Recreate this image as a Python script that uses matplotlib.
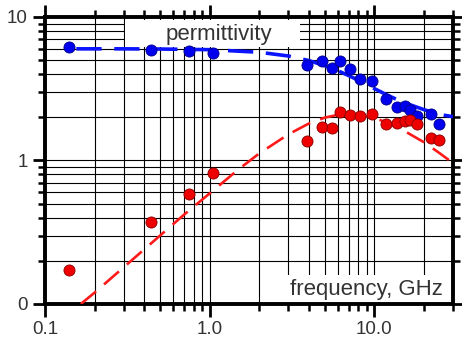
import matplotlib
matplotlib.use("Agg")
import matplotlib.pyplot as plt
from matplotlib.patches import Rectangle
from matplotlib.ticker import FixedLocator, FixedFormatter, LogLocator, NullFormatter

plt.rcParams['font.family'] = ['Liberation Sans', 'DejaVu Sans']

# measured points (frequency in GHz)
freq = [0.14, 0.44, 0.75, 1.05, 3.9, 4.8, 5.55, 6.2, 7.15, 8.2, 9.7,
        11.7, 13.7, 15.4, 16.5, 18.2, 22.1, 24.7]
eps_real = [6.15, 5.92, 5.76, 5.62, 4.6, 4.92, 4.43, 4.9, 4.31, 3.72, 3.56,
            2.68, 2.35, 2.38, 2.25, 2.05, 2.11, 1.8]
eps_imag = [0.172, 0.37, 0.58, 0.82, 1.37, 1.72, 1.68, 2.17, 2.08, 2.03, 2.11,
            1.8, 1.83, 1.87, 1.9, 1.8, 1.43, 1.38]

# dashed fit curves
fit_f_real = [0.155, 0.3, 0.5, 1.0, 2.0, 3.0, 4.0, 5.0, 6.0, 7.0, 8.0, 10.0,
              12.0, 15.0, 20.0, 25.0, 30.0]
fit_real = [6.0, 6.0, 5.98, 5.92, 5.68, 5.35, 4.97, 4.58, 4.22, 3.9, 3.62, 3.17,
            2.85, 2.54, 2.26, 2.09, 2.02]
fit_f_imag = [0.165, 0.2, 0.3, 0.5, 0.7, 1.0, 1.5, 2.0, 3.0, 4.0, 5.0, 6.0, 7.0,
              8.0, 10.0, 12.0, 15.0, 20.0, 25.0, 30.0]
fit_imag = [0.1, 0.12, 0.18, 0.30, 0.42, 0.59, 0.87, 1.12, 1.52, 1.81, 1.99, 2.08,
            2.1, 2.08, 1.98, 1.83, 1.62, 1.34, 1.12, 0.96]

xticks = [0.1, 1.0, 10.0]
xtick_labels = ["0.1", "1.0", "10.0"]
yticks = [0.1, 1.0, 10.0]
ytick_labels = ["0", "1", "10"]

fig = plt.figure(figsize=(4.62, 3.44), dpi=100)
ax = fig.add_axes([0.0974, 0.1163, 0.8831, 0.8343])
ax.set_xscale('log')
ax.set_yscale('log')
ax.set_xlim(0.1, 30)
ax.set_ylim(0.1, 10)

ax.xaxis.set_major_locator(FixedLocator(xticks))
ax.xaxis.set_major_formatter(FixedFormatter(xtick_labels))
ax.yaxis.set_major_locator(FixedLocator(yticks))
ax.yaxis.set_major_formatter(FixedFormatter(ytick_labels))
ax.xaxis.set_minor_locator(LogLocator(base=10, subs=range(2, 10)))
ax.yaxis.set_minor_locator(LogLocator(base=10, subs=range(2, 10)))
ax.xaxis.set_minor_formatter(NullFormatter())
ax.yaxis.set_minor_formatter(NullFormatter())

ax.grid(True, which='both', color='black', linewidth=0.8, zorder=0)
ax.set_axisbelow(True)

for s in ax.spines.values():
    s.set_linewidth(2.8)
ax.tick_params(which='both', direction='out', top=True, right=True,
               labelsize=13.5, labelcolor='#333333', width=2)
ax.tick_params(which='major', length=9)
ax.tick_params(which='minor', length=5, width=1.8)

# white boxes behind the two labels
ax.add_patch(Rectangle((0.196, 0.895), 0.43, 0.095, transform=ax.transAxes,
                       facecolor='white', edgecolor='none', zorder=1.5))
ax.add_patch(Rectangle((0.59, 0.0), 0.41, 0.10, transform=ax.transAxes,
                       facecolor='white', edgecolor='none', zorder=1.5))

ax.plot(fit_f_real, fit_real, color='#0a14ff', linestyle=(0, (7, 3.5)), linewidth=2.6, zorder=3)
ax.plot(fit_f_imag, fit_imag, color='#ff1a1a', linestyle=(0, (7.5, 4)), linewidth=1.9, zorder=3)
ax.plot(freq, eps_real, 'o', color='#0000ee', markeredgecolor='#000088',
        markeredgewidth=0.6, markersize=8, zorder=4)
ax.plot(freq, eps_imag, 'o', color='#ee0000', markeredgecolor='#880000',
        markeredgewidth=0.6, markersize=8, zorder=4)

ax.text(0.425, 0.94, "permittivity", transform=ax.transAxes, fontsize=16,
        color='#333333', ha='center', va='center', zorder=2)
ax.text(0.975, 0.052, "frequency, GHz", transform=ax.transAxes, fontsize=16,
        color='#333333', ha='right', va='center', zorder=2)

fig.savefig("out.png", dpi=100)
